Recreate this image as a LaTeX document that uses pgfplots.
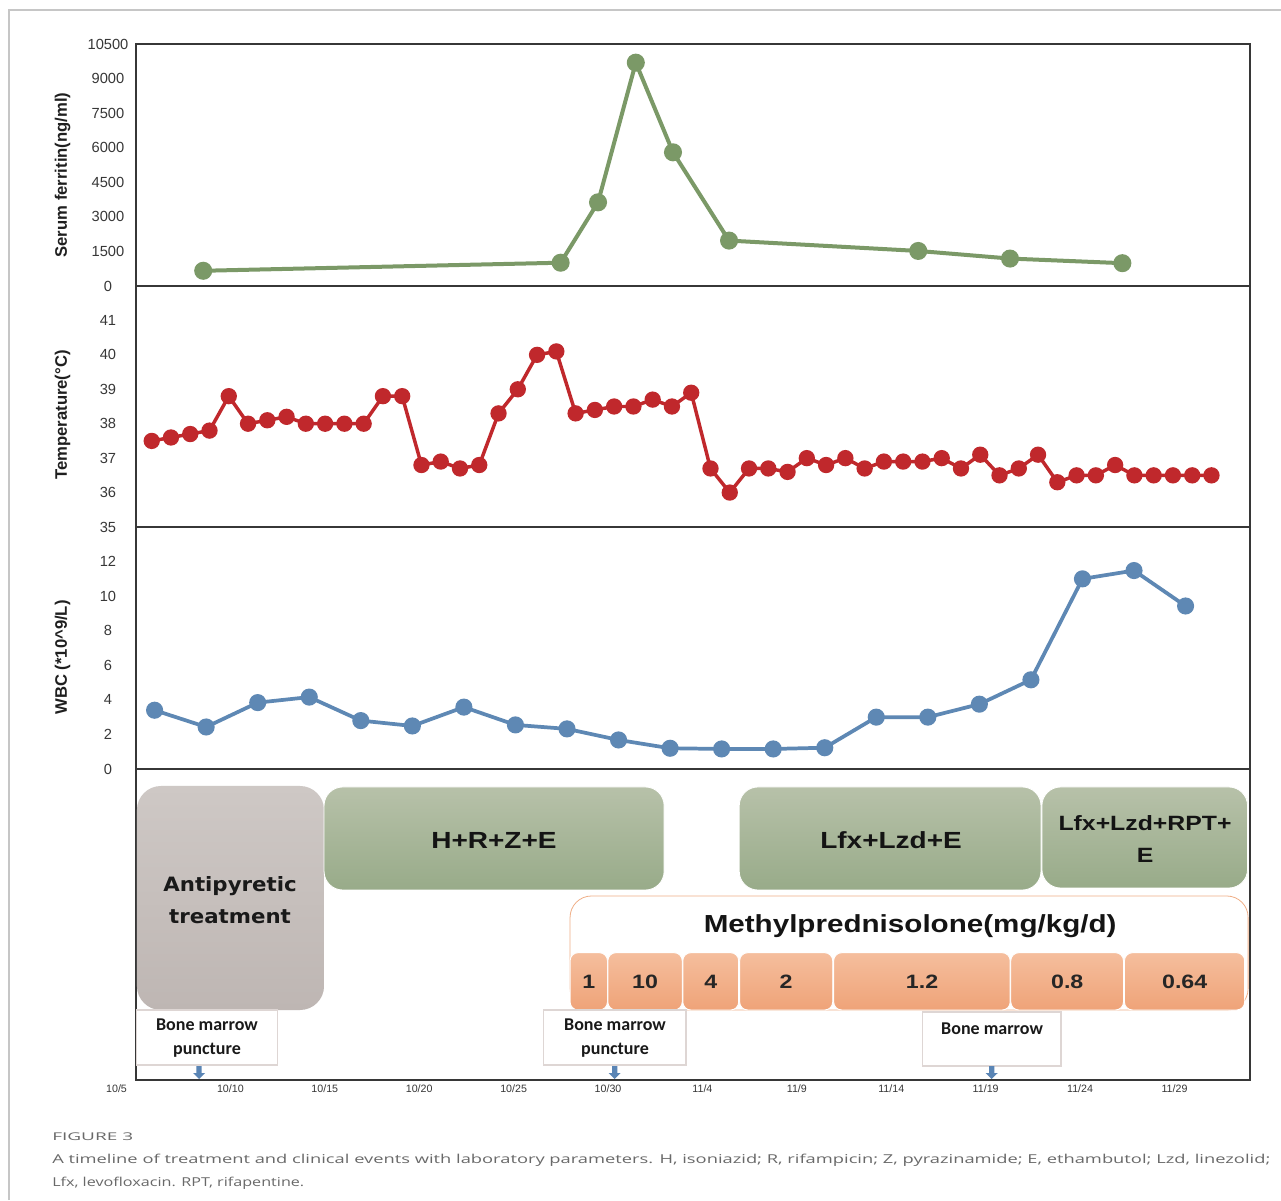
\documentclass[border=0pt]{standalone}
\usepackage{pgfplots}
\pgfplotsset{compat=1.18}
\usepackage{fontspec}
\usepackage{graphicx}
\setmainfont{Liberation Sans}
\newfontfamily\boxfont{Liberation Sans}[FakeStretch=1.2]
\newfontfamily\antifont{DejaVu Sans}[FakeStretch=1.08]
\newfontfamily\bmfont{Carlito}
\newfontfamily\capfont{Open Sans}
\definecolor{axcol}{RGB}{55,55,55}
\definecolor{fercol}{RGB}{123,153,103}
\definecolor{tempcol}{RGB}{192,40,44}
\definecolor{wbccol}{RGB}{94,136,180}
\definecolor{antitop}{RGB}{206,200,197}
\definecolor{antibot}{RGB}{190,182,179}
\definecolor{grtop}{RGB}{183,193,169}
\definecolor{grbot}{RGB}{152,171,137}
\definecolor{ortop}{RGB}{245,190,157}
\definecolor{orbot}{RGB}{239,163,120}
\definecolor{orline}{RGB}{240,175,135}
\definecolor{capcol}{RGB}{105,105,105}
\definecolor{bmline}{RGB}{222,214,212}
\definecolor{arrcol}{RGB}{90,133,181}

\pgfplotsset{
  panel/.style={
    scale only axis, width=835.5pt, anchor=south west,
    axis line style={draw=axcol, line width=1.5pt},
    major tick length=0pt,
    xtick=\empty,
    clip=false,
    scaled y ticks=false,
    /pgf/number format/assume math mode=true,
    /pgf/number format/1000 sep={},
    /pgf/number format/fixed,
    yticklabel style={font=\fontsize{11}{13}\selectfont, text=axcol, anchor=center, inner sep=0pt, xshift=-21pt},
  }
}

\begin{document}
\begin{tikzpicture}
\useasboundingbox (0,0) rectangle (960.75pt,900pt);
\fill[white] (0,0) rectangle (960.75pt,900pt);
\draw[gray!45, line width=0.8pt] (6.75pt,0) -- (6.75pt,892.5pt) -- (965pt,892.5pt);

% Serum ferritin
\begin{axis}[panel, at={(102pt,685.5pt)}, height=181.5pt,
  xmin=0, xmax=59, ymin=0, ymax=10500, ytick={0,1500,3000,4500,6000,7500,9000,10500}]
\addplot[fercol, line width=3pt, mark=*, mark size=5.25pt, mark options={fill=fercol, draw=none}]
 coordinates {(3.56,660) (22.49,1010) (24.47,3630) (26.47,9690) (28.44,5800) (31.41,1970) (41.43,1520) (46.29,1190) (52.24,990)};
\end{axis}

% Temperature
\begin{axis}[panel, at={(102pt,504.75pt)}, height=180.75pt,
  xmin=-0.815, xmax=57.0, ymin=35, ymax=42, ytick={35,36,37,38,39,40,41}]
\addplot[tempcol, line width=2.6pt, mark=*, mark size=4.8pt, mark options={fill=tempcol, draw=none}]
 coordinates {(0,37.5) (1,37.6) (2,37.7) (3,37.8) (4,38.8) (5,38.0) (6,38.1) (7,38.2) (8,38.0) (9,38.0)
 (10,38.0) (11,38.0) (12,38.8) (13,38.8) (14,36.8) (15,36.9) (16,36.7) (17,36.8) (18,38.3) (19,39.0)
 (20,40.0) (21,40.1) (22,38.3) (23,38.4) (24,38.5) (25,38.5) (26,38.7) (27,38.5) (28,38.9) (29,36.7)
 (30,36.0) (31,36.7) (32,36.7) (33,36.6) (34,37.0) (35,36.8) (36,37.0) (37,36.7) (38,36.9) (39,36.9)
 (40,36.9) (41,37.0) (42,36.7) (43,37.1) (44,36.5) (45,36.7) (46,37.1) (47,36.3) (48,36.5) (49,36.5)
 (50,36.8) (51,36.5) (52,36.5) (53,36.5) (54,36.5) (55,36.5)};
\end{axis}

% WBC
\begin{axis}[panel, at={(102pt,323.25pt)}, height=181.5pt,
  xmin=-0.361, xmax=21.25, ymin=0, ymax=14, ytick={0,2,4,6,8,10,12}]
\addplot[wbccol, line width=2.8pt, mark=*, mark size=5pt, mark options={fill=wbccol, draw=none}]
 coordinates {(0,3.40) (1,2.43) (2,3.84) (3,4.16) (4,2.80) (5,2.49) (6,3.58) (7,2.55) (8,2.32) (9,1.68)
 (10,1.20) (11,1.16) (12,1.16) (13,1.23) (14,3.0) (15,3.0) (16,3.75) (17,5.16) (18,11.0) (19,11.48) (20,9.43)};
\end{axis}

% Treatment timeline
\begin{axis}[panel, at={(102pt,90pt)}, height=233.25pt,
  xmin=0, xmax=59, ymin=0, ymax=311, ytick=\empty,
  xtick={5,10,15,20,25,30,35,40,45,50,55},
  xticklabels={10/10,10/15,10/20,10/25,10/30,11/4,11/9,11/14,11/19,11/24,11/29},
  xticklabel style={font=\fontsize{8}{9}\selectfont, text=axcol, anchor=center, inner sep=0pt, yshift=-6.75pt}]
\node[font=\fontsize{8}{9}\selectfont, text=axcol, inner sep=0pt, yshift=-6.75pt] at (axis cs:-1.03,0) {10/5};
% antipyretic
\draw[rounded corners=18pt, top color=antitop, bottom color=antibot, draw=none] (axis cs:0.05,70) rectangle (axis cs:9.96,294);
% drug regimens
\draw[rounded corners=14pt, top color=grtop, bottom color=grbot, draw=white, line width=0.6pt] (axis cs:9.96,190) rectangle (axis cs:27.97,293);
\draw[rounded corners=14pt, top color=grtop, bottom color=grbot, draw=white, line width=0.6pt] (axis cs:31.95,190) rectangle (axis cs:47.93,293);
\draw[rounded corners=14pt, top color=grtop, bottom color=grbot, draw=white, line width=0.6pt] (axis cs:47.98,192) rectangle (axis cs:58.87,293);
% methylprednisolone
\draw[rounded corners=16pt, fill=white, draw=orline, line width=0.6pt] (axis cs:22.99,70) rectangle (axis cs:58.9,184);
\draw[rounded corners=6pt, top color=ortop, bottom color=orbot, draw=white, line width=0.7pt] (axis cs:22.99,70) rectangle (axis cs:24.97,127.3);
\draw[rounded corners=6pt, top color=ortop, bottom color=orbot, draw=white, line width=0.7pt] (axis cs:24.99,70) rectangle (axis cs:28.93,127.3);
\draw[rounded corners=6pt, top color=ortop, bottom color=orbot, draw=white, line width=0.7pt] (axis cs:28.96,70) rectangle (axis cs:31.92,127.3);
\draw[rounded corners=6pt, top color=ortop, bottom color=orbot, draw=white, line width=0.7pt] (axis cs:31.97,70) rectangle (axis cs:36.90,127.3);
\draw[rounded corners=6pt, top color=ortop, bottom color=orbot, draw=white, line width=0.7pt] (axis cs:36.95,70) rectangle (axis cs:46.30,127.3);
\draw[rounded corners=6pt, top color=ortop, bottom color=orbot, draw=white, line width=0.7pt] (axis cs:46.33,70) rectangle (axis cs:52.30,127.3);
\draw[rounded corners=6pt, top color=ortop, bottom color=orbot, draw=white, line width=0.7pt] (axis cs:52.35,70) rectangle (axis cs:58.72,127.3);
% bone marrow boxes
\draw[fill=white, draw=bmline, line width=0.8pt] (axis cs:0.05,15) rectangle (axis cs:7.5,70);
\draw[fill=white, draw=bmline, line width=0.8pt] (axis cs:21.56,15) rectangle (axis cs:29.13,70);
\draw[fill=white, draw=bmline, line width=0.8pt] (axis cs:41.63,14) rectangle (axis cs:48.99,68);
% arrows
\fill[arrcol] (axis cs:3.20,14) -- (axis cs:3.48,14) -- (axis cs:3.48,7) -- (axis cs:3.66,7) -- (axis cs:3.34,1) -- (axis cs:3.02,7) -- (axis cs:3.20,7) -- cycle;
\fill[arrcol] (axis cs:25.21,14) -- (axis cs:25.49,14) -- (axis cs:25.49,7) -- (axis cs:25.67,7) -- (axis cs:25.35,1) -- (axis cs:25.03,7) -- (axis cs:25.21,7) -- cycle;
\fill[arrcol] (axis cs:45.18,14) -- (axis cs:45.46,14) -- (axis cs:45.46,7) -- (axis cs:45.64,7) -- (axis cs:45.32,1) -- (axis cs:45.00,7) -- (axis cs:45.18,7) -- cycle;
% labels
\node[font=\antifont\bfseries\fontsize{14.8}{24}\selectfont, align=center, text=black!90] at (axis cs:4.98,180) {Antipyretic\\treatment};
\node[font=\boxfont\bfseries\fontsize{17.5}{21}\selectfont, text=black!92] at (axis cs:18.96,240) {H+R+Z+E};
\node[font=\boxfont\bfseries\fontsize{17.5}{21}\selectfont, text=black!92] at (axis cs:39.99,240) {Lfx+Lzd+E};
\node[font=\boxfont\bfseries\fontsize{15.5}{24}\selectfont, align=center, text=black!92] at (axis cs:53.44,241) {Lfx+Lzd+RPT+\\E};
\node[font=\boxfont\bfseries\fontsize{18.5}{22}\selectfont, text=black!92] at (axis cs:41.0,154) {Methylprednisolone(mg/kg/d)};
\node[font=\boxfont\bfseries\fontsize{14.5}{17}\selectfont, text=black!85] at (axis cs:23.98,98) {1};
\node[font=\boxfont\bfseries\fontsize{14.5}{17}\selectfont, text=black!85] at (axis cs:26.96,98) {10};
\node[font=\boxfont\bfseries\fontsize{14.5}{17}\selectfont, text=black!85] at (axis cs:30.44,98) {4};
\node[font=\boxfont\bfseries\fontsize{14.5}{17}\selectfont, text=black!85] at (axis cs:34.43,98) {2};
\node[font=\boxfont\bfseries\fontsize{14.5}{17}\selectfont, text=black!85] at (axis cs:41.63,98) {1.2};
\node[font=\boxfont\bfseries\fontsize{14.5}{17}\selectfont, text=black!85] at (axis cs:49.32,98) {0.8};
\node[font=\boxfont\bfseries\fontsize{14.5}{17}\selectfont, text=black!85] at (axis cs:55.54,98) {0.64};
\node[font=\bmfont\bfseries\fontsize{13.5}{18}\selectfont, align=center, text=black!90] at (axis cs:3.76,42) {Bone marrow\\puncture};
\node[font=\bmfont\bfseries\fontsize{13.5}{18}\selectfont, align=center, text=black!90] at (axis cs:25.37,42) {Bone marrow\\puncture};
\node[font=\bmfont\bfseries\fontsize{13.5}{18}\selectfont, text=black!90] at (axis cs:45.34,51) {Bone marrow};
\end{axis}

% y labels
\node[rotate=90, font=\bfseries\fontsize{12.5}{15}\selectfont, text=black!88] at (47pt,768.75pt) {Serum ferritin(ng/ml)};
\node[rotate=90, font=\bfseries\fontsize{12.5}{15}\selectfont, text=black!88] at (47pt,588.75pt) {Temperature(°C)};
\node[rotate=90, font=\bfseries\fontsize{12.5}{15}\selectfont, text=black!88] at (47pt,406.9pt) {WBC (*10\textasciicircum 9/L)};

% caption
\node[anchor=west, inner sep=0pt, text=capcol] at (39pt,47.25pt) {\resizebox{60.75pt}{\height}{\capfont\fontsize{8}{9}\selectfont FIGURE 3}};
\node[anchor=west, inner sep=0pt, text=capcol] at (39pt,30pt) {\resizebox{913.5pt}{\height}{\capfont\fontsize{9.2}{11}\selectfont A timeline of treatment and clinical events with laboratory parameters. H, isoniazid; R, rifampicin; Z, pyrazinamide; E, ethambutol; Lzd, linezolid;}};
\node[anchor=west, inner sep=0pt, text=capcol] at (39pt,12.75pt) {\resizebox{189pt}{\height}{\capfont\fontsize{9.2}{11}\selectfont Lfx, levofloxacin. RPT, rifapentine.}};
\end{tikzpicture}
\end{document}
